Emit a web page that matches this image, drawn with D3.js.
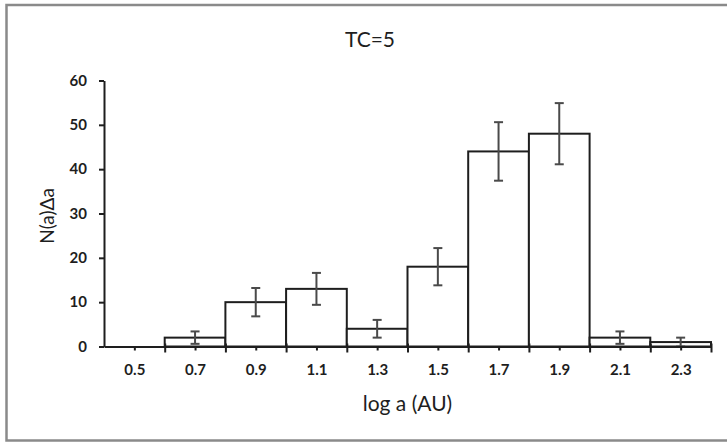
<!DOCTYPE html>
<html>
<head>
<meta charset="utf-8">
<script src="https://cdn.jsdelivr.net/npm/d3@7"></script>
<style>
  body { margin: 0; background: #fff; }
  text { font-family: Lato, "Liberation Sans", sans-serif; fill: #1e1e1e; }
  .axis path, .axis line { stroke: #1e1e1e; stroke-width: 2; }
</style>
</head>
<body>
<div id="chart"></div>
<script>
// bin centres (log a), counts and error bars
var binCenters = [0.5, 0.7, 0.9, 1.1, 1.3, 1.5, 1.7, 1.9, 2.1, 2.3];
var counts     = [0, 2, 10, 13, 4, 18, 44, 48, 2, 1];
var errors     = [0, 1.4, 3.2, 3.6, 2, 4.2, 6.6, 6.9, 1.4, 1];
var binEdges   = [0.6, 0.8, 1.0, 1.2, 1.4, 1.6, 1.8, 2.0, 2.2, 2.4];
var yTicks     = [0, 10, 20, 30, 40, 50, 60];
var binWidth = 0.2;

var width = 727, height = 442;
d3.select("#chart").html("");
var svg = d3.select("#chart").append("svg")
    .attr("width", width)
    .attr("height", height);

// outer frame (right side runs off the picture)
svg.append("rect")
    .attr("x", 6.5).attr("y", 5)
    .attr("width", 740).attr("height", 435.5)
    .attr("fill", "none")
    .attr("stroke", "#8a8a8a")
    .attr("stroke-width", 2.5);

var x = d3.scaleLinear().domain([0.4, 2.4]).range([104, 711]);
var y = d3.scaleLinear().domain([0, 60]).range([346.5, 80.5]);

// bars
var bars = counts.map(function(d, i) {
    return {c: binCenters[i], n: d, e: errors[i]};
}).filter(function(d) { return d.n > 0; });

svg.append("g").selectAll("rect")
    .data(bars)
    .enter().append("rect")
    .attr("x", function(d) { return x(d.c - binWidth / 2); })
    .attr("y", function(d) { return y(d.n); })
    .attr("width", function(d) { return x(d.c + binWidth / 2) - x(d.c - binWidth / 2); })
    .attr("height", function(d) { return y(0) - y(d.n); })
    .attr("fill", "#fff")
    .attr("stroke", "#1e1e1e")
    .attr("stroke-width", 2);

// error bars
var eb = svg.append("g").attr("stroke", "#4a4a4a").attr("stroke-width", 2);
bars.forEach(function(d) {
    var cx = x(d.c);
    eb.append("line").attr("x1", cx).attr("x2", cx)
        .attr("y1", y(d.n + d.e)).attr("y2", y(d.n - d.e));
    [d.n + d.e, d.n - d.e].forEach(function(v) {
        eb.append("line").attr("x1", cx - 4.5).attr("x2", cx + 4.5)
            .attr("y1", y(v)).attr("y2", y(v));
    });
});

// y axis
var yAxis = svg.append("g")
    .attr("class", "axis")
    .attr("transform", "translate(" + x(0.4) + ",0)")
    .call(d3.axisLeft(y).tickValues(yTicks).tickSize(5).tickPadding(12).tickSizeOuter(0));
yAxis.selectAll("text").style("font-size", "15px").style("font-weight", "bold").attr("fill", "#1e1e1e");

// x axis: labels at bin centres
var xAxis = svg.append("g")
    .attr("class", "axis")
    .attr("transform", "translate(0," + y(0) + ")")
    .call(d3.axisBottom(x).tickValues(binCenters).tickSize(4).tickPadding(14)
        .tickSizeOuter(0).tickFormat(d3.format(".1f")));
xAxis.selectAll("text").style("font-size", "15px").style("font-weight", "bold").attr("fill", "#1e1e1e");

// bin edge ticks, crossing the axis
svg.append("g")
    .attr("class", "axis")
    .attr("transform", "translate(0," + (y(0) - 3) + ")")
    .call(d3.axisBottom(x).tickValues(binEdges).tickSize(9).tickFormat(""))
    .select(".domain").remove();

// titles
svg.append("text")
    .attr("x", 370).attr("y", 47)
    .attr("text-anchor", "middle")
    .style("font-size", "21px")
    .text("TC=5");

svg.append("text")
    .attr("x", (x(0.4) + x(2.4)) / 2).attr("y", 411)
    .attr("text-anchor", "middle")
    .style("font-size", "21px")
    .text("log a (AU)");

svg.append("text")
    .attr("transform", "translate(54,216) rotate(-90)")
    .attr("text-anchor", "middle")
    .style("font-size", "19px")
    .text("N(a)Δa");
</script>
</body>
</html>
